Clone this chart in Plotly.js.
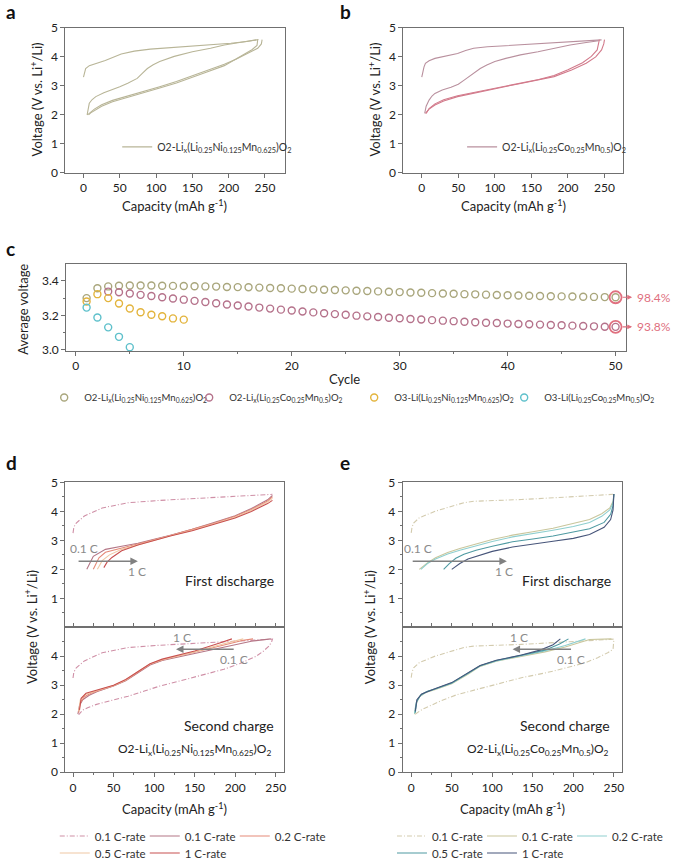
<!DOCTYPE html>
<html><head><meta charset="utf-8">
<script src="https://cdn.plot.ly/plotly-3.0.1.min.js"></script>
<style>html,body{margin:0;padding:0;background:#fff}#chart{width:687px;height:868px}</style>
</head><body><div id="chart"></div>
<script>
// ---------- Panel a : O2-Lix(Li0.25Ni0.125Mn0.625)O2 ----------
const aCharge1Cap = [0,1,3,8,15,30,52,70,92,120,150,180,203,225,241];
const aCharge1V   = [3.3,3.45,3.6,3.7,3.75,3.88,4.1,4.2,4.27,4.32,4.36,4.41,4.47,4.53,4.6];
const aDis1Cap = [246,245,240,229,210,194,170,150,128,105,85,61,40,25,15,8,5];
const aDis1V   = [4.6,4.45,4.3,4.15,3.92,3.75,3.53,3.35,3.15,2.97,2.82,2.65,2.5,2.35,2.2,2.05,2.0];
const aCharge2Cap = [5,6,8,12,17,28,39,50,61,68,74,81,88,96,105,125,150,175,194,215,238];
const aCharge2V   = [2.0,2.2,2.4,2.53,2.63,2.76,2.86,2.97,3.09,3.17,3.26,3.43,3.6,3.73,3.84,4.02,4.18,4.3,4.41,4.5,4.59];
const aDis2Cap = [240,239,232,215,194,170,150,128,105,85,61,40,25,15,10,7];
const aDis2V   = [4.6,4.4,4.25,4.0,3.7,3.48,3.3,3.1,2.93,2.78,2.6,2.45,2.3,2.15,2.07,2.0];

// ---------- Panel b : O2-Lix(Li0.25Co0.25Mn0.5)O2 ----------
const bCharge1Cap = [0,1,3,5,10,18,30,49,60,71,90,119,150,181,215,246];
const bCharge1V   = [3.3,3.45,3.65,3.78,3.87,3.95,4.02,4.12,4.22,4.3,4.35,4.39,4.44,4.49,4.54,4.59];
const bDis1Cap = [250,249,246,238,225,205,181,160,137,115,93,70,49,30,18,10,5];
const bDis1V   = [4.6,4.45,4.24,4.0,3.78,3.55,3.32,3.2,3.09,2.98,2.86,2.75,2.63,2.48,2.34,2.2,2.05];
const bCharge2Cap = [4,6,10,14,18,28,40,50,58,65,71,80,89,100,115,135,159,180,203,225,242];
const bCharge2V   = [2.05,2.3,2.51,2.65,2.74,2.86,2.95,3.06,3.2,3.32,3.43,3.6,3.72,3.84,3.95,4.07,4.18,4.3,4.41,4.5,4.56];
const bDis2Cap = [243,242,240,232,220,200,181,160,137,115,93,70,49,30,18,10,6];
const bDis2V   = [4.6,4.45,4.24,4.02,3.8,3.56,3.36,3.22,3.1,2.99,2.88,2.77,2.66,2.52,2.38,2.22,2.05];

// ---------- Panel c : average voltage vs cycle ----------
const cO2NiCycle = [1,2,3,4,5,6,7,8,9,10,11,12,13,14,15,16,17,18,19,20,21,22,23,24,25,26,27,28,29,30,31,32,33,34,35,36,37,38,39,40,41,42,43,44,45,46,47,48,49,50];
const cO2NiV = [3.30,3.357,3.368,3.372,3.373,3.373,3.373,3.372,3.371,3.370,3.369,3.368,3.367,3.365,3.364,3.363,3.361,3.359,3.357,3.355,3.353,3.351,3.349,3.347,3.345,3.343,3.341,3.339,3.337,3.335,3.333,3.331,3.329,3.327,3.325,3.323,3.322,3.320,3.318,3.317,3.315,3.314,3.312,3.311,3.310,3.309,3.308,3.307,3.306,3.305];
const cO2CoCycle = [3,4,5,6,7,8,9,10,11,12,13,14,15,16,17,18,19,20,21,22,23,24,25,26,27,28,29,30,31,32,33,34,35,36,37,38,39,40,41,42,43,44,45,46,47,48,49,50];
const cO2CoV = [3.338,3.334,3.327,3.319,3.312,3.305,3.298,3.291,3.284,3.277,3.270,3.263,3.257,3.251,3.245,3.239,3.233,3.228,3.222,3.217,3.212,3.207,3.203,3.198,3.194,3.190,3.186,3.183,3.179,3.176,3.172,3.169,3.166,3.163,3.160,3.157,3.155,3.152,3.150,3.148,3.146,3.144,3.142,3.140,3.138,3.136,3.134,3.133];
const cO3NiCycle = [1,2,3,4,5,6,7,8,9,10];
const cO3NiV = [3.28,3.323,3.30,3.269,3.24,3.218,3.203,3.195,3.182,3.175];
const cO3CoCycle = [1,2,3,4,5];
const cO3CoV = [3.245,3.187,3.13,3.075,3.015];
const cRetentionLabels = ['98.4%','93.8%'];

// ---------- Panel d : Ni compound, rate tests ----------
const dCharge1Cap = [0,1,4,14,36,68,107,147,186,220,246];
const dCharge1V   = [3.25,3.45,3.6,3.84,4.12,4.3,4.38,4.44,4.51,4.55,4.59];
const dFirstDisCap = [246,245,242,235,226,206,186,166,147,127,107,88,68,48,28,18,12,7];
const dFirstDisV   = [4.59,4.5,4.36,4.18,4.0,3.75,3.55,3.4,3.26,3.12,2.97,2.8,2.62,2.48,2.33,2.22,2.14,1.98];
const dDis01Cap = [246,240,220,200,170,147,120,100,80,60,40,25,20,17];
const dDis01V   = [4.55,4.4,4.1,3.85,3.58,3.38,3.18,3.03,2.9,2.8,2.69,2.45,2.2,2.0];
const dDis02Cap = [246,240,220,200,170,147,120,100,80,60,40,32,27,25];
const dDis02V   = [4.5,4.36,4.07,3.83,3.56,3.37,3.17,3.02,2.88,2.74,2.59,2.4,2.15,2.0];
const dDis05Cap = [246,240,220,200,170,147,120,100,80,60,45,36,32,30];
const dDis05V   = [4.45,4.32,4.04,3.8,3.54,3.35,3.16,3.01,2.86,2.69,2.5,2.3,2.1,2.0];
const dDis1Cap  = [246,240,220,200,170,147,120,100,80,60,48,42,39,38];
const dDis1V    = [4.38,4.27,4.0,3.77,3.52,3.33,3.15,3.0,2.84,2.64,2.41,2.25,2.12,2.06];
const dCh01Cap = [6,8,12,20,30,50,65,80,95,110,150,185,220,244];
const dCh01V   = [2.0,2.3,2.5,2.65,2.78,2.97,3.15,3.43,3.7,3.85,4.1,4.32,4.52,4.6];
const dCh02Cap = [7,9,14,22,32,50,65,80,95,110,150,185,210,222];
const dCh02V   = [2.05,2.4,2.6,2.72,2.82,2.98,3.17,3.45,3.72,3.87,4.13,4.38,4.55,4.6];
const dCh05Cap = [7,9,15,24,35,50,65,80,95,110,150,185,205,210];
const dCh05V   = [2.1,2.5,2.68,2.77,2.86,2.99,3.18,3.47,3.73,3.88,4.15,4.42,4.57,4.6];
const dCh1Cap  = [8,10,16,25,36,50,65,80,95,110,150,180,196];
const dCh1V    = [2.15,2.55,2.72,2.8,2.88,3.0,3.2,3.48,3.74,3.9,4.18,4.45,4.6];

// ---------- Panel e : Co compound, rate tests ----------
const eCharge1Cap = [0,1,3,10,30,65,77,136,195,249];
const eCharge1V   = [3.26,3.45,3.6,3.78,4.01,4.3,4.35,4.41,4.5,4.59];
const eFirstDisCap = [250,249,243,230,215,195,176,156,136,116,97,77,57,40,26,16,10,4];
const eFirstDisV   = [4.59,4.24,4.13,3.95,3.78,3.63,3.49,3.37,3.26,3.11,2.97,2.83,2.68,2.5,2.33,2.2,2.1,1.98];
const eDis01Cap = [250,249,245,235,220,200,175,150,125,100,80,60,45,30,20,13,10];
const eDis01V   = [4.6,4.35,4.12,3.92,3.72,3.58,3.42,3.3,3.18,3.03,2.88,2.72,2.58,2.4,2.22,2.07,2.0];
const eDis02Cap = [250,249,245,235,220,200,175,150,125,100,80,60,45,30,20,15,12];
const eDis02V   = [4.6,4.3,4.05,3.83,3.62,3.48,3.35,3.24,3.12,2.96,2.82,2.66,2.53,2.36,2.2,2.08,2.0];
const eDis05Cap = [250,249,246,238,220,200,175,150,125,100,80,65,55,47,42,40];
const eDis05V   = [4.6,4.2,3.9,3.62,3.4,3.28,3.15,3.05,2.95,2.8,2.66,2.52,2.38,2.2,2.07,2.0];
const eDis1Cap  = [250,249,246,238,220,200,175,150,125,100,85,70,60,53,50];
const eDis1V    = [4.6,4.05,3.72,3.45,3.2,3.07,2.97,2.88,2.77,2.62,2.5,2.36,2.2,2.07,2.0];
const eCh01Cap = [4,6,10,18,30,50,70,85,105,136,165,190,210,220,247];
const eCh01V   = [2.0,2.35,2.6,2.75,2.85,3.05,3.38,3.65,3.83,4.0,4.15,4.32,4.5,4.58,4.6];
const eCh02Cap = [4,6,11,19,30,50,70,85,105,136,165,190,205,215];
const eCh02V   = [2.02,2.4,2.63,2.77,2.87,3.07,3.4,3.66,3.84,4.02,4.18,4.37,4.52,4.6];
const eCh05Cap = [5,7,12,20,30,50,70,85,105,136,165,183,194];
const eCh05V   = [2.05,2.45,2.67,2.79,2.88,3.08,3.41,3.67,3.85,4.03,4.21,4.42,4.6];
const eCh1Cap  = [5,7,13,21,30,50,70,85,105,136,160,175,184];
const eCh1V    = [2.1,2.5,2.7,2.8,2.89,3.09,3.42,3.68,3.86,4.04,4.22,4.4,4.6];

const rateLabels = ['0.1 C-rate','0.1 C-rate','0.2 C-rate','0.5 C-rate','1 C-rate'];
const nameNi = 'O2-Li<sub>x</sub>(Li<sub>0.25</sub>Ni<sub>0.125</sub>Mn<sub>0.625</sub>)O<sub>2</sub>';
const nameCo = 'O2-Li<sub>x</sub>(Li<sub>0.25</sub>Co<sub>0.25</sub>Mn<sub>0.5</sub>)O<sub>2</sub>';
const nameO3Ni = 'O3-Li(Li<sub>0.25</sub>Ni<sub>0.125</sub>Mn<sub>0.625</sub>)O<sub>2</sub>';
const nameO3Co = 'O3-Li(Li<sub>0.25</sub>Co<sub>0.25</sub>Mn<sub>0.5</sub>)O<sub>2</sub>';

// ---------- styling ----------
const FONT = 'Lato, "Open Sans", sans-serif';
const W = 687, H = 868;
const PX = p => p / W, PY = p => 1 - p / H;
const colA = '#b8b597';
const colBc = '#b9909e', colBd = '#d27a8b';
const cCols = ['#a9a67c', '#b5728b', '#e3b43c', '#5ec0cb'];
const hiCol = '#e0707f';
const dCols = ['#cf8fa6', '#b47686', '#e58a78', '#f0c8a4', '#c85050'];
const eCols = ['#d3cbae', '#c9c69c', '#8fcfcf', '#4e9aa2', '#47557a'];
const DASH = '5px,2px,1px,2px';

const traces = [];
function line(x, y, xa, ya, color, opts) {
  traces.push(Object.assign({x: x, y: y, xaxis: xa, yaxis: ya, type: 'scatter', mode: 'lines',
    line: {color: color, width: 1.1}, showlegend: false, hoverinfo: 'skip'}, opts || {}));
}
// a
line(aCharge1Cap, aCharge1V, 'x', 'y', colA, {showlegend: true, name: nameNi, legend: 'legend'});
line(aDis1Cap, aDis1V, 'x', 'y', colA);
line(aCharge2Cap, aCharge2V, 'x', 'y', colA);
line(aDis2Cap, aDis2V, 'x', 'y', colA);
// b
line(bCharge1Cap, bCharge1V, 'x2', 'y2', colBc, {showlegend: true, name: nameCo, legend: 'legend2'});
line(bDis1Cap, bDis1V, 'x2', 'y2', colBd);
line(bCharge2Cap, bCharge2V, 'x2', 'y2', colBc);
line(bDis2Cap, bDis2V, 'x2', 'y2', colBd);
// c
const cSets = [[cO2NiCycle, cO2NiV, nameNi], [cO2CoCycle, cO2CoV, nameCo], [cO3NiCycle, cO3NiV, nameO3Ni], [cO3CoCycle, cO3CoV, nameO3Co]];
const cWidths = [100, 120, 105, 130];
cSets.forEach((s, i) => {
  traces.push({x: s[0], y: s[1], xaxis: 'x3', yaxis: 'y3', type: 'scatter', mode: 'markers', name: s[2],
    legend: 'legend3', legendwidth: cWidths[i], cliponaxis: false,
    marker: {symbol: 'circle-open', size: 7, color: cCols[i], line: {width: 1.4, color: cCols[i]}}, hoverinfo: 'skip'});
});
[0, 1].forEach(i => {
  const s = cSets[i];
  traces.push({x: [s[0][s[0].length - 1]], y: [s[1][s[1].length - 1]], xaxis: 'x3', yaxis: 'y3', type: 'scatter', mode: 'markers',
    showlegend: false, cliponaxis: false, hoverinfo: 'skip',
    marker: {symbol: 'circle-open', size: 12, color: hiCol, line: {width: 1.8, color: hiCol}}});
});
// d
line(dCharge1Cap, dCharge1V, 'x4', 'y4', dCols[0], {line: {color: dCols[0], width: 1.1, dash: DASH}});
line(dDis01Cap, dDis01V, 'x4', 'y4', dCols[1]);
line(dDis02Cap, dDis02V, 'x4', 'y4', dCols[2]);
line(dDis05Cap, dDis05V, 'x4', 'y4', dCols[3]);
line(dDis1Cap, dDis1V, 'x4', 'y4', dCols[4]);
line(dCharge1Cap.concat(dFirstDisCap), dCharge1V.concat(dFirstDisV), 'x5', 'y5', dCols[0],
  {line: {color: dCols[0], width: 1.1, dash: DASH}, showlegend: true, name: rateLabels[0], legend: 'legend4'});
line(dCh01Cap, dCh01V, 'x5', 'y5', dCols[1], {showlegend: true, name: rateLabels[1], legend: 'legend4'});
line(dCh02Cap, dCh02V, 'x5', 'y5', dCols[2], {showlegend: true, name: rateLabels[2], legend: 'legend4', legendwidth: 70});
line(dCh05Cap, dCh05V, 'x5', 'y5', dCols[3], {showlegend: true, name: rateLabels[3], legend: 'legend5'});
line(dCh1Cap, dCh1V, 'x5', 'y5', dCols[4], {showlegend: true, name: rateLabels[4], legend: 'legend5', legendwidth: 70});
// e
line(eCharge1Cap, eCharge1V, 'x6', 'y6', eCols[0], {line: {color: eCols[0], width: 1.1, dash: DASH}});
line(eDis01Cap, eDis01V, 'x6', 'y6', eCols[1]);
line(eDis02Cap, eDis02V, 'x6', 'y6', eCols[2]);
line(eDis05Cap, eDis05V, 'x6', 'y6', eCols[3]);
line(eDis1Cap, eDis1V, 'x6', 'y6', eCols[4]);
line(eCharge1Cap.concat(eFirstDisCap), eCharge1V.concat(eFirstDisV), 'x7', 'y7', eCols[0],
  {line: {color: eCols[0], width: 1.1, dash: DASH}, showlegend: true, name: rateLabels[0], legend: 'legend6'});
line(eCh01Cap, eCh01V, 'x7', 'y7', eCols[1], {showlegend: true, name: rateLabels[1], legend: 'legend6'});
line(eCh02Cap, eCh02V, 'x7', 'y7', eCols[2], {showlegend: true, name: rateLabels[2], legend: 'legend6', legendwidth: 70});
line(eCh05Cap, eCh05V, 'x7', 'y7', eCols[3], {showlegend: true, name: rateLabels[3], legend: 'legend7'});
line(eCh1Cap, eCh1V, 'x7', 'y7', eCols[4], {showlegend: true, name: rateLabels[4], legend: 'legend7', legendwidth: 70});

// ---------- axes ----------
const AX = {showline: true, mirror: true, linecolor: '#707070', linewidth: 1, ticks: 'outside', ticklen: 4,
  tickcolor: '#707070', tickfont: {size: 12, color: '#222', family: FONT}, zeroline: false, showgrid: false,
  fixedrange: true, automargin: false};
function axis(o) { return Object.assign({}, AX, o); }
const MIN = {ticks: 'outside', ticklen: 2, tickcolor: '#707070'};
function minor(o) { return Object.assign({}, MIN, o); }

const yA = [PY(173), PY(28)];
const dUp = [PY(628), PY(483)], dLo = [PY(773), PY(628)];
const layout = {
  width: W, height: H, margin: {l: 0, r: 0, t: 0, b: 0}, autosize: false,
  paper_bgcolor: '#fff', plot_bgcolor: 'rgba(0,0,0,0)',
  font: {family: FONT, size: 12, color: '#222'},
  xaxis: axis({domain: [PX(68), PX(297)], range: [-25, 278], tick0: 0, dtick: 50, anchor: 'y'}),
  yaxis: axis({domain: yA, range: [0, 5], dtick: 1, anchor: 'x'}),
  xaxis2: axis({domain: [PX(420), PX(649)], range: [-25, 276], tick0: 0, dtick: 50, anchor: 'y2'}),
  yaxis2: axis({domain: yA, range: [0, 5], dtick: 1, anchor: 'x2'}),
  xaxis3: axis({domain: [PX(68.8), PX(652)], range: [-0.9, 51], tick0: 0, dtick: 10, anchor: 'y3',
    minor: minor({dtick: 5, tick0: 0})}),
  yaxis3: axis({domain: [PY(351), PY(264)], range: [2.995, 3.5], tickvals: [3.0, 3.2, 3.4], ticktext: ['3.0', '3.2', '3.4'], anchor: 'x3',
    minor: minor({tickvals: [3.1, 3.3]})}),
  xaxis4: axis({domain: [PX(68), PX(296)], range: [-9.5, 260.7], tick0: 0, dtick: 25, ticks: 'inside', showticklabels: false, anchor: 'y4'}),
  yaxis4: axis({domain: dUp, range: [0, 5], tickvals: [1, 2, 3, 4, 5], anchor: 'x4',
    minor: minor({tickvals: [0.5, 1.5, 2.5, 3.5, 4.5]})}),
  xaxis5: axis({domain: [PX(68), PX(296)], range: [-9.5, 260.7], tick0: 0, dtick: 50, anchor: 'y5',
    minor: minor({dtick: 25, tick0: 0})}),
  yaxis5: axis({domain: dLo, range: [0, 5], tickvals: [0, 1, 2, 3, 4], anchor: 'x5',
    minor: minor({tickvals: [0.5, 1.5, 2.5, 3.5, 4.5]})}),
  xaxis6: axis({domain: [PX(419), PX(647)], range: [-10.7, 259.5], tick0: 0, dtick: 25, ticks: 'inside', showticklabels: false, anchor: 'y6'}),
  yaxis6: axis({domain: dUp, range: [0, 5], tickvals: [1, 2, 3, 4, 5], anchor: 'x6',
    minor: minor({tickvals: [0.5, 1.5, 2.5, 3.5, 4.5]})}),
  xaxis7: axis({domain: [PX(419), PX(647)], range: [-10.7, 259.5], tick0: 0, dtick: 50, anchor: 'y7',
    minor: minor({dtick: 25, tick0: 0})}),
  yaxis7: axis({domain: dLo, range: [0, 5], tickvals: [0, 1, 2, 3, 4], anchor: 'x7',
    minor: minor({tickvals: [0.5, 1.5, 2.5, 3.5, 4.5]})}),
  showlegend: true
};
const LG = {orientation: 'h', bgcolor: 'rgba(0,0,0,0)', borderwidth: 0, font: {size: 11.5, color: '#333', family: FONT},
  xanchor: 'left', yanchor: 'middle', itemwidth: 30, tracegroupgap: 0};
function lg(o) { return Object.assign({}, LG, o); }
layout.legend = lg({x: PX(122), y: PY(147), font: {size: 10.5, color: '#333', family: FONT}});
layout.legend2 = lg({x: PX(481), y: PY(147), font: {size: 10.5, color: '#333', family: FONT}});
layout.legend3 = lg({x: PX(46), y: PY(398), font: {size: 9.6, color: '#333', family: FONT}});
layout.legend4 = lg({x: PX(57), y: PY(837), entrywidth: 45});
layout.legend5 = lg({x: PX(57), y: PY(854), entrywidth: 45});
layout.legend6 = lg({x: PX(408), y: PY(837), entrywidth: 45});
layout.legend7 = lg({x: PX(408), y: PY(854), entrywidth: 45});

// ---------- annotations ----------
const ann = [];
function txt(text, x, y, o) {
  ann.push(Object.assign({text: text, x: x, y: y, xref: 'paper', yref: 'paper', showarrow: false,
    xanchor: 'center', yanchor: 'middle', font: {size: 13, color: '#222', family: FONT}}, o || {}));
}
const bold = {font: {size: 19, color: '#111', family: FONT}, xanchor: 'left'};
txt('<b>a</b>', PX(4), PY(12), bold);
txt('<b>b</b>', PX(352), PY(12), bold);
txt('<b>c</b>', PX(4), PY(249), bold);
txt('<b>d</b>', PX(4), PY(463), bold);
txt('<b>e</b>', PX(352), PY(463), bold);
const capTitle = 'Capacity (mAh g<sup>-1</sup>)';
const voltTitle = 'Voltage (V vs. Li<sup>+</sup>/Li)';
txt(capTitle, PX(182), PY(206));
txt(capTitle, PX(535), PY(206));
txt(voltTitle, PX(38), PY(100), {textangle: -90});
txt(voltTitle, PX(390), PY(100), {textangle: -90});
txt('Average voltage', PX(24), PY(310), {textangle: -90});
txt('Cycle', PX(359), PY(379));
txt(capTitle, PX(182), PY(809));
txt(capTitle, PX(533), PY(809));
txt(voltTitle, PX(32), PY(628), {textangle: -90});
txt(voltTitle, PX(384), PY(628), {textangle: -90});

// panel c retention labels + arrows
[0, 1].forEach(i => {
  const s = cSets[i];
  const yv = s[1][s[1].length - 1];
  ann.push({x: PX(658), y: yv, xref: 'paper', yref: 'y3', text: '', showarrow: true, ax: -11, ay: 0,
    arrowhead: 2, arrowsize: 0.8, arrowwidth: 1.2, arrowcolor: hiCol});
  ann.push({x: PX(661), y: yv, xref: 'paper', yref: 'y3', text: cRetentionLabels[i], showarrow: false,
    xanchor: 'left', yanchor: 'middle', font: {size: 12, color: hiCol, family: FONT}});
});

// panels d/e inner texts and arrows
const grey = {size: 12, color: '#8a8a8a', family: FONT};
function dataTxt(text, x, y, xa, ya, o) {
  ann.push(Object.assign({text: text, x: x, y: y, xref: xa, yref: ya, showarrow: false,
    xanchor: 'center', yanchor: 'middle', font: {size: 14, color: '#222', family: FONT}}, o || {}));
}
function arrow(x0, x1, y, xa, ya) {
  ann.push({x: x1, y: y, ax: x0, ay: y, xref: xa, yref: ya, axref: xa, ayref: ya, text: '', showarrow: true,
    arrowhead: 2, arrowsize: 1, arrowwidth: 1.5, arrowcolor: '#808080'});
}
// d
dataTxt('0.1 C', 14, 2.72, 'x4', 'y4', {font: grey});
arrow(5, 80, 2.28, 'x4', 'y4');
dataTxt('1 C', 79, 1.93, 'x4', 'y4', {font: grey});
dataTxt('First discharge', 193, 1.62, 'x4', 'y4');
dataTxt('1 C', 134, 4.66, 'x5', 'y5', {font: grey});
arrow(200, 127, 4.24, 'x5', 'y5');
dataTxt('0.1 C', 198, 3.9, 'x5', 'y5', {font: grey});
dataTxt('Second charge', 192, 1.6, 'x5', 'y5');
dataTxt(nameNi, 247, 0.77, 'x5', 'y5', {xanchor: 'right', font: {size: 12, color: '#222', family: FONT}});
// e
dataTxt('0.1 C', 8, 2.72, 'x6', 'y6', {font: grey});
arrow(0, 118, 2.28, 'x6', 'y6');
dataTxt('1 C', 115, 1.93, 'x6', 'y6', {font: grey});
dataTxt('First discharge', 192, 1.62, 'x6', 'y6');
dataTxt('1 C', 133, 4.66, 'x7', 'y7', {font: grey});
arrow(199, 125, 4.24, 'x7', 'y7');
dataTxt('0.1 C', 197, 3.9, 'x7', 'y7', {font: grey});
dataTxt('Second charge', 190, 1.6, 'x7', 'y7');
dataTxt(nameCo, 246, 0.77, 'x7', 'y7', {xanchor: 'right', font: {size: 12, color: '#222', family: FONT}});

layout.annotations = ann;
Plotly.newPlot('chart', traces, layout, {staticPlot: true, displayModeBar: false});
</script></body></html>
